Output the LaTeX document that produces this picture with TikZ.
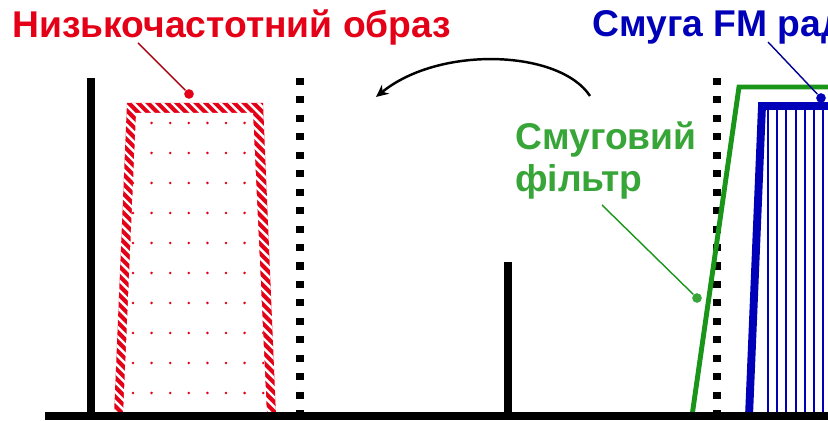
\documentclass[tikz,border=0pt]{standalone}
\usepackage{fontspec}
\setmainfont{Liberation Sans}
\usetikzlibrary{arrows.meta}
\definecolor{chervonyi}{RGB}{228,0,22}
\definecolor{synii}{RGB}{0,0,185}
\definecolor{zelenyi}{RGB}{25,150,25}
\definecolor{zelenyitext}{RGB}{55,165,55}
\tikzset{
	napys/.style={font=\fontsize{21.2}{25}\selectfont\bfseries, inner sep=0pt, anchor=base west},
	punktyr/.style={line width=4pt, dash pattern=on 4pt off 6.5pt},
	tochka/.style={circle, fill, inner sep=0pt, minimum size=5.5pt},
	vynoska/.style={line width=0.8pt},
}
\begin{document}
\begin{tikzpicture}[>={Stealth[length=7pt,width=6.5pt]}, x=0.02cm, y=-0.02cm]
	\useasboundingbox (0,0) rectangle (828,421);
	\clip (0,0) rectangle (828,421);
	%Obraz (trapetsiia)
	\fill[chervonyi] (114,416) -- (127,103) -- (263,103) -- (276,416) -- cycle;
	\begin{scope}
		\clip (114,416) -- (127,103) -- (263,103) -- (276,416) -- cycle;
		\foreach \i in {0,...,70}
			\draw[white, line width=1.4pt] (-220+9.6*\i,95) -- ++(330,330);
	\end{scope}
	\fill[white] (123,416) -- (136,113) -- (253,113) -- (267,416) -- cycle;
	\begin{scope}
		\clip (123,416) -- (136,113) -- (253,113) -- (267,416) -- cycle;
		\foreach \x in {0,...,7}
			\foreach \y in {0,...,9}
				\fill[chervonyi] (133+18.6*\x,123+30*\y) circle (1.4);
	\end{scope}
	%Punktyr 1,2
	\draw[punktyr] (300,78) -- (300,413);
	\draw[punktyr] (717,78) -- (717,413);
	%Vertykalni liniyi
	\draw[line width=4.5pt] (91,78) -- (91,416);
	\draw[line width=4.5pt] (508,262) -- (508,416);
	%Smugovyi filtr
	\draw[zelenyi, line width=2.8pt] (692,416) -- (739,87) -- (840,87);
	%Smuga FM
	\draw[synii, line width=4.5pt] (749,416) -- (762,106) -- (840,106);
	\foreach \i in {0,...,7}
		\draw[synii, line width=1.1pt] (768+9.2*\i,106) -- (768+9.2*\i,416);
	%Vis
	\draw[line width=4.5pt] (45,416) -- (840,416);
	%Strilka
	\coordinate (strilkapoch) at (590,96);
	\coordinate (strilkakin) at (376,97);
	\draw[->, line width=1.4pt] (strilkapoch) .. controls (560,50) and (440,45) .. (strilkakin);
	%Napysy
	\node[napys, text=chervonyi] (nyzkochast) at (12,38) {Низькочастотний образ};
	\node[napys, text=synii] (fmsmuga) at (592,37) {Смуга FM рад};
	\node[napys, text=zelenyitext] (filtr1) at (515,150) {Смуговий};
	\node[napys, text=zelenyitext] (filtr2) at (515,192) {фільтр};
	%Vynosky
	\coordinate (obrazkin) at (138,43);
	\node[tochka, chervonyi] (obrazdot) at (189,94) {};
	\draw[vynoska, chervonyi!75!black] (obrazkin) -- (obrazdot);
	\coordinate (fmkin) at (768,42);
	\node[tochka, synii] (fmdot) at (821,98) {};
	\draw[vynoska, synii!80!black] (fmkin) -- (fmdot);
	\coordinate (filtrkin) at (602,205);
	\node[tochka, zelenyitext] (filtrdot) at (697,298) {};
	\draw[vynoska, zelenyi] (filtrkin) -- (filtrdot);
\end{tikzpicture}
\end{document}
